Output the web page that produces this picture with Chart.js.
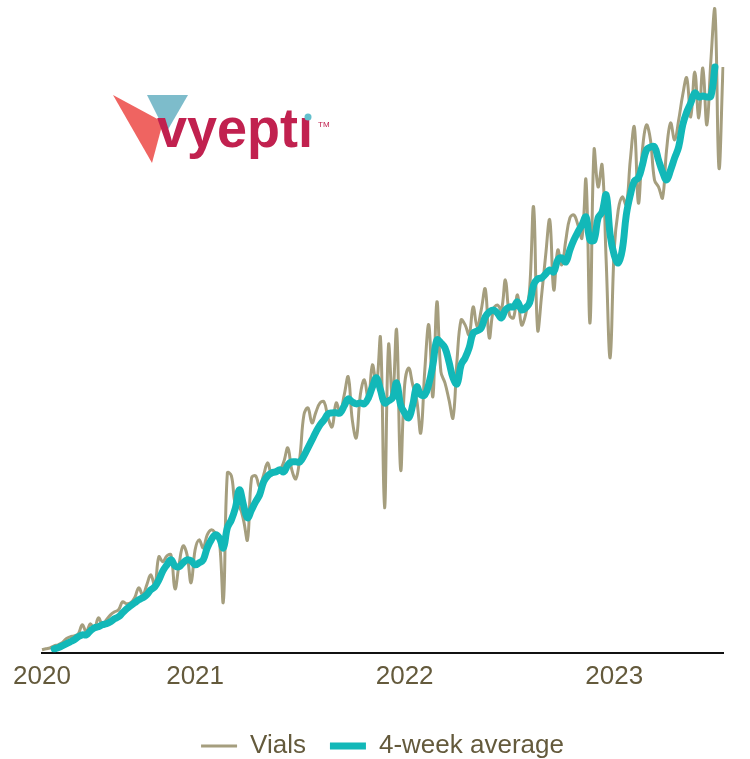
<!DOCTYPE html>
<html>
<head>
<meta charset="utf-8">
<script src="https://cdn.jsdelivr.net/npm/chart.js@4.4.1/dist/chart.umd.min.js"></script>
<style>
  html, body { margin: 0; padding: 0; background: #fff; }
  #wrap { position: relative; width: 750px; height: 759px; }
  #logo { position: absolute; left: 0; top: 0; }
</style>
</head>
<body>
<div id="wrap">
  <canvas id="vialsChart" width="750" height="759"></canvas>
  <svg id="logo" width="360" height="190" viewBox="0 0 360 190">
    <polygon points="147,95 188,95 166,133" fill="#7dbccb"/>
    <polygon points="113,95 163,122 152,163" fill="#ef6461"/>
    <text x="157" y="147" font-family="Liberation Sans, Arial, sans-serif" font-weight="bold" font-size="56" fill="#c1214f" textLength="156" lengthAdjust="spacingAndGlyphs">vyeptı</text>
    <circle cx="308" cy="117" r="3.5" fill="#62c0cd"/>
    <text x="318" y="127" font-family="Liberation Sans, Arial, sans-serif" font-size="8" fill="#c1214f">TM</text>
  </svg>
</div>
<script>
// weekly vials shipped, starting early April 2020
var vials = [30, 40, 50, 70, 80, 100, 140, 160, 170, 190,
    280, 210, 290, 240, 350, 280, 330, 380, 410, 430,
    510, 490, 500, 550, 650, 580, 680, 780, 670, 960,
    910, 970, 980, 640, 880, 1070, 980, 700, 1030, 1130,
    1050, 1180, 1230, 1200, 1130, 510, 1800, 1770, 1480, 1460,
    1330, 1130, 1750, 1770, 1660, 1780, 1900, 1780, 1830, 1830,
    1910, 2050, 1830, 1740, 1960, 2380, 2450, 2300, 2410, 2500,
    2510, 2350, 2260, 2500, 2410, 2580, 2760, 2330, 2150, 2580,
    2730, 2530, 2880, 2680, 3150, 1450, 3080, 2530, 3230, 1830,
    2680, 2850, 2680, 2530, 2200, 2830, 3280, 2560, 3510, 2810,
    2700, 2530, 2350, 2930, 3330, 3280, 3180, 3460, 3260, 3430,
    3640, 3150, 3430, 3480, 3430, 3730, 3380, 3350, 3580, 3280,
    3380, 3630, 4460, 3230, 3580, 3980, 4330, 3630, 4030, 3880,
    4130, 4350, 4380, 4280, 4150, 4730, 3300, 5030, 4660, 4880,
    3930, 2950, 4030, 4430, 4560, 4480, 4930, 5260, 4500, 5030,
    5280, 5130, 4730, 4660, 4550, 5030, 5300, 5130, 5330, 5580,
    5750, 5360, 5810, 5350, 5850, 5280, 5930, 6430, 4850, 5860];

var avg4 = [null, null, null, 40, 50, 70, 90, 110, 130, 160,
    180, 180, 220, 250, 260, 280, 290, 310, 340, 360,
    400, 440, 470, 500, 530, 550, 580, 630, 660, 730,
    820, 880, 930, 870, 860, 900, 930, 920, 880, 900,
    930, 1050, 1130, 1180, 1150, 1050, 1250, 1330, 1450, 1630,
    1480, 1350, 1430, 1510, 1580, 1710, 1770, 1800, 1810, 1830,
    1810, 1880, 1910, 1910, 1910, 1970, 2050, 2130, 2210, 2280,
    2330, 2390, 2400, 2400, 2400, 2470, 2540, 2510, 2490, 2500,
    2490, 2550, 2660, 2750, 2630, 2500, 2520, 2550, 2700, 2480,
    2400, 2350, 2480, 2660, 2580, 2580, 2690, 2880, 3130, 3100,
    3050, 2910, 2750, 2690, 2880, 2950, 3050, 3200, 3220, 3250,
    3360, 3410, 3430, 3400, 3350, 3430, 3460, 3460, 3510, 3430,
    3450, 3500, 3680, 3740, 3750, 3790, 3830, 3810, 3930, 3950,
    3910, 4030, 4130, 4210, 4280, 4360, 4130, 4130, 4350, 4410,
    4580, 4180, 3980, 3900, 4030, 4380, 4580, 4720, 4750, 4880,
    5030, 5060, 5060, 4930, 4810, 4730, 4830, 4950, 5060, 5280,
    5410, 5500, 5600, 5560, 5570, 5560, 5570, 5860, null, null];

var weekLabels = vials.map(function (v, i) { return 'wk ' + (i + 1); });

// which week gets a year label
var tickIndex = [0, 38, 90, 142];
var tickLabels = ['2020', '2021', '2022', '2023'];

var textColor = '#645a3c';
var fontFamily = "'Liberation Sans', Arial, sans-serif";

var ctx = document.getElementById('vialsChart').getContext('2d');
var myChart = new Chart(ctx, {
    type: 'line',
    data: {
        labels: weekLabels,
        datasets: [{
            label: 'Vials',
            data: vials,
            borderColor: '#a59e7e',
            backgroundColor: '#a59e7e',
            borderWidth: 3,
            tension: 0.4,
            pointRadius: 0,
            order: 1
        },
        {
            label: '4-week average',
            data: avg4,
            borderColor: '#12b8b8',
            backgroundColor: '#12b8b8',
            borderWidth: 7,
            borderCapStyle: 'round',
            borderJoinStyle: 'round',
            tension: 0.4,
            pointRadius: 0,
            order: 0
        }]
    },
    options: {
        responsive: false,
        animation: false,
        layout: {
            padding: { left: 42, right: 27, top: 0, bottom: -10 }
        },
        scales: {
            x: {
                offset: false,
                grid: { display: false, drawTicks: false },
                border: { display: true, color: '#111111', width: 2 },
                ticks: {
                    autoSkip: false,
                    maxRotation: 0,
                    minRotation: 0,
                    padding: 8,
                    color: textColor,
                    font: { size: 26, family: fontFamily },
                    callback: function (value, index) {
                        var k = tickIndex.indexOf(index);
                        return k >= 0 ? tickLabels[k] : '';
                    }
                },
                afterFit: function (scale) {
                    scale.height += 9;
                }
            },
            y: {
                display: false,
                min: 0,
                max: 6530
            }
        },
        plugins: {
            tooltip: { enabled: false },
            legend: {
                position: 'bottom',
                labels: {
                    usePointStyle: true,
                    pointStyle: 'line',
                    pointStyleWidth: 36,
                    padding: 24,
                    color: textColor,
                    font: { size: 26, family: fontFamily },
                    sort: function (a, b) { return a.datasetIndex - b.datasetIndex; }
                }
            }
        }
    }
});
</script>
</body>
</html>
